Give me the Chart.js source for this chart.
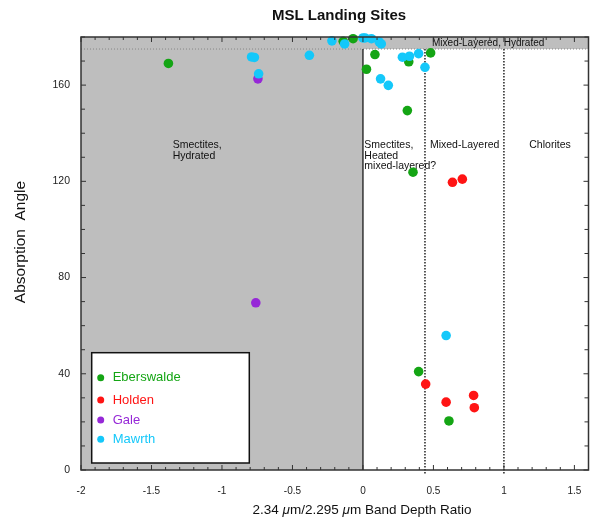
<!DOCTYPE html>
<html>
<head>
<meta charset="utf-8">
<script src="https://cdn.jsdelivr.net/npm/chart.js@4.4.1/dist/chart.umd.min.js"></script>
<style>
body { margin: 0; background: #fff; }
#wrap { width: 590px; height: 520px; position: relative; }
</style>
</head>
<body>
<div id="wrap"><canvas id="myChart"></canvas></div>
<script>
// Data
const seriesNames = ['Eberswalde', 'Holden', 'Gale', 'Mawrth'];
const seriesColors = ['rgb(20,165,20)', 'rgb(255,20,20)', 'rgb(150,40,215)', 'rgb(20,200,250)'];

const eberswaldeX = [-1.38, -0.14, -0.07, 0.085, 0.025, 0.325, 0.48, 0.315, 0.355, 0.395, 0.61];
const eberswaldeY = [169.0, 178.2, 179.3, 172.7, 166.6, 169.7, 173.4, 149.4, 123.8, 40.9, 20.4];
const holdenX = [0.635, 0.705, 0.445, 0.785, 0.59, 0.79];
const holdenY = [119.6, 120.9, 35.7, 31.0, 28.2, 25.9];
const galeX = [-0.745, -0.76];
const galeY = [162.6, 69.5];
const mawrthX = [-0.79, -0.77, -0.74, -0.38, -0.22, -0.13, 0.0, 0.015, 0.06, 0.115, 0.13, 0.125, 0.18, 0.28, 0.33, 0.395, 0.44, 0.59];
const mawrthY = [171.7, 171.5, 164.7, 172.4, 178.4, 177.1, 179.6, 179.6, 179.3, 178.0, 177.1, 162.6, 159.9, 171.6, 172.0, 173.1, 167.4, 55.9];

const xTickLabels = ['-2', '-1.5', '-1', '-0.5', '0', '0.5', '1', '1.5'];
const yTickLabels = ['0', '40', '80', '120', '160'];

// region boundaries, in data units
const smectiteEdge = 0;
const mixedEdge = 0.44;
const chloriteEdge = 1;
const hydratedAngle = 175;

const regionNotes = [
    { x: -1.35, y: 134.9, lines: ['Smectites,', 'Hydrated'] },
    { x: 0.01, y: 134.9, lines: ['Smectites,', 'Heated', 'mixed-layered?'] },
    { x: 0.475, y: 134.9, lines: ['Mixed-Layered'] },
    { x: 1.18, y: 134.9, lines: ['Chlorites'] },
    { x: 0.49, y: 177.3, lines: ['Mixed-Layered, Hydrated'], small: true }
];

const seriesX = [eberswaldeX, holdenX, galeX, mawrthX];
const seriesY = [eberswaldeY, holdenY, galeY, mawrthY];

const FONT = '"Liberation Sans", Arial, Helvetica, sans-serif';

function line(ctx, x1, y1, x2, y2) {
    ctx.beginPath();
    ctx.moveTo(x1, y1);
    ctx.lineTo(x2, y2);
    ctx.stroke();
}

const regions = {
    id: 'regions',
    beforeDatasetsDraw(chart) {
        const { ctx, chartArea: a, scales: { x, y } } = chart;
        const x0 = x.getPixelForValue(smectiteEdge);
        const yh = y.getPixelForValue(hydratedAngle);
        ctx.save();
        ctx.fillStyle = 'rgb(190,190,190)';
        ctx.fillRect(a.left, a.top, x0 - a.left, a.bottom - a.top);
        ctx.fillRect(a.left, a.top, a.right - a.left, yh - a.top);

        ctx.strokeStyle = '#888';
        ctx.lineWidth = 1;
        ctx.setLineDash([1, 2]);
        line(ctx, a.left, yh, a.right, yh);

        ctx.strokeStyle = '#222';
        ctx.lineWidth = 1.5;
        ctx.setLineDash([1.5, 1.5]);
        [mixedEdge, chloriteEdge].forEach((v) => {
            const px = x.getPixelForValue(v);
            line(ctx, px, yh, px, a.bottom + 4);
        });

        ctx.setLineDash([]);
        ctx.strokeStyle = '#333';
        line(ctx, x0, yh, x0, a.bottom);

        ctx.fillStyle = '#111';
        ctx.textBaseline = 'middle';
        ctx.textAlign = 'left';
        regionNotes.forEach((n) => {
            ctx.font = (n.small ? '10px ' : '10.5px ') + FONT;
            const px = x.getPixelForValue(n.x);
            const py = y.getPixelForValue(n.y);
            n.lines.forEach((t, i) => ctx.fillText(t, px, py + i * 10.5));
        });
        ctx.restore();
    },
    afterDraw(chart) {
        const { ctx, chartArea: a, scales: { x, y } } = chart;
        ctx.save();

        // frame
        ctx.strokeStyle = '#333';
        ctx.lineWidth = 1.5;
        ctx.strokeRect(a.left, a.top, a.right - a.left, a.bottom - a.top);

        // inward ticks on all four sides
        ctx.lineWidth = 1;
        x.ticks.forEach((t) => {
            const px = x.getPixelForValue(t.value);
            const len = Math.round(t.value * 10) % 5 === 0 ? 5 : 3;
            line(ctx, px, a.bottom, px, a.bottom - len);
            line(ctx, px, a.top, px, a.top + len);
        });
        y.ticks.forEach((t) => {
            const py = y.getPixelForValue(t.value);
            const len = t.value % 40 === 0 ? 5 : 4;
            line(ctx, a.left, py, a.left + len, py);
            line(ctx, a.right, py, a.right - len, py);
        });

        // title
        ctx.fillStyle = '#111';
        ctx.textAlign = 'center';
        ctx.textBaseline = 'middle';
        ctx.font = 'bold 15px ' + FONT;
        ctx.fillText('MSL Landing Sites', 339, 16);

        // x axis title with italic mu
        const parts = [
            ['2.34 ', ''], ['\u03bc', 'italic '], ['m/2.295 ', ''], ['\u03bc', 'italic '], ['m Band Depth Ratio', '']
        ];
        let total = 0;
        parts.forEach((p) => {
            ctx.font = p[1] + '13.5px ' + FONT;
            total += ctx.measureText(p[0]).width;
        });
        let cx = 362 - total / 2;
        ctx.textAlign = 'left';
        parts.forEach((p) => {
            ctx.font = p[1] + '13.5px ' + FONT;
            ctx.fillText(p[0], cx, 510);
            cx += ctx.measureText(p[0]).width;
        });

        // y axis title
        ctx.save();
        ctx.translate(21, 242);
        ctx.rotate(-Math.PI / 2);
        ctx.textAlign = 'center';
        ctx.font = '15.5px ' + FONT;
        ctx.fillText('Absorption  Angle', 0, 0);
        ctx.restore();

        // legend box inside the plot
        const bx = a.left + 10.7;
        const by = a.bottom - 117.3;
        ctx.fillStyle = '#fff';
        ctx.fillRect(bx, by, 157.6, 110.3);
        ctx.strokeStyle = '#111';
        ctx.lineWidth = 1.5;
        ctx.strokeRect(bx, by, 157.6, 110.3);
        const rowY = [25, 47.3, 67.3, 86.6];
        ctx.font = '13px ' + FONT;
        ctx.textBaseline = 'middle';
        chart.data.datasets.forEach((ds, i) => {
            ctx.fillStyle = ds.backgroundColor;
            ctx.beginPath();
            ctx.arc(bx + 9, by + rowY[i], 3.5, 0, Math.PI * 2);
            ctx.fill();
            ctx.fillText(ds.label, bx + 21, by + rowY[i]);
        });
        ctx.restore();
    }
};

const ctx = document.getElementById('myChart');

new Chart(ctx, {
    type: 'scatter',
    data: {
        datasets: seriesNames.map((name, i) => ({
            label: name,
            data: seriesX[i].map((v, j) => ({ x: v, y: seriesY[i][j] })),
            backgroundColor: seriesColors[i],
            borderColor: seriesColors[i],
            pointRadius: 4.8,
            pointHoverRadius: 4.8,
            pointBorderWidth: 0,
            order: seriesNames.length - i,
            clip: false
        }))
    },
    options: {
        responsive: true,
        maintainAspectRatio: false,
        animation: false,
        layout: { autoPadding: false, padding: { top: 37, right: 1.5, left: 0, bottom: 0 } },
        plugins: {
            legend: { display: false },
            title: { display: false },
            tooltip: { enabled: false }
        },
        scales: {
            x: {
                type: 'linear',
                min: -2,
                max: 1.6,
                afterFit: (scale) => {
                    scale.height = 50;
                    scale.paddingLeft = 0;
                    scale.paddingRight = 0;
                },
                grid: { display: false, drawTicks: false },
                border: { display: false },
                ticks: {
                    stepSize: 0.1,
                    autoSkip: false,
                    maxRotation: 0,
                    padding: 15,
                    color: '#222',
                    font: { size: 10, family: FONT },
                    callback: (v) => {
                        const s = String(Math.round(v * 10) / 10);
                        return xTickLabels.includes(s) ? s : '';
                    }
                }
            },
            y: {
                min: 0,
                max: 180,
                afterFit: (scale) => { scale.width = 81; },
                grid: { display: false, drawTicks: false },
                border: { display: false },
                ticks: {
                    stepSize: 10,
                    autoSkip: false,
                    padding: 11,
                    color: '#222',
                    font: { size: 10.5, family: FONT },
                    callback: (v) => {
                        const s = String(v);
                        return yTickLabels.includes(s) ? s : '';
                    }
                }
            }
        }
    },
    plugins: [regions]
});
</script>
</body>
</html>
